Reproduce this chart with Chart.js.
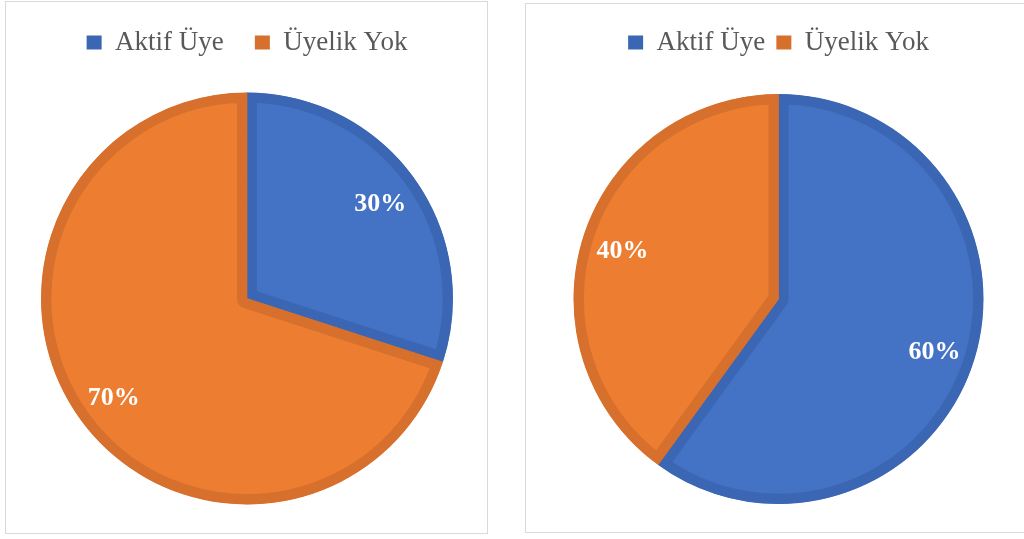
<!DOCTYPE html>
<html>
<head>
<meta charset="utf-8">
<script src="https://cdn.jsdelivr.net/npm/chart.js@4"></script>
<style>
  html, body { margin: 0; padding: 0; background: #fff; overflow: hidden; width: 1024px; height: 539px; }
  .box { position: absolute; box-sizing: border-box; border: 1px solid #d9d9d9; background: #fff; }
  canvas { position: absolute; }
</style>
</head>
<body>
<div class="box" style="left:5px; top:1px; width:483px; height:533px;"></div>
<div class="box" style="left:525px; top:3px; width:510px; height:530px;"></div>
<canvas id="left-pie" width="482" height="533" style="left:6px; top:-2px;"></canvas>
<canvas id="right-pie" width="507" height="532" style="left:525px; top:0px;"></canvas>
<script>
const categories = ['Aktif Üye', 'Üyelik Yok'];
const leftValues = [30, 70];
const rightValues = [60, 40];

const fillColors = ['#4472C4', '#ED7D31'];
const edgeColors = ['#3B66B3', '#D6702C'];

// percentage labels inside the slices
const sliceLabels = {
  id: 'sliceLabels',
  afterDatasetsDraw(chart) {
    const ctx = chart.ctx;
    const meta = chart.getDatasetMeta(0);
    const values = chart.data.datasets[0].data;
    ctx.save();
    ctx.fillStyle = '#ffffff';
    ctx.font = 'bold 26px "Liberation Serif", "Times New Roman", serif';
    ctx.textAlign = 'center';
    ctx.textBaseline = 'middle';
    meta.data.forEach((arc, i) => {
      const p = arc.getProps(['x', 'y', 'startAngle', 'endAngle', 'outerRadius'], true);
      const mid = (p.startAngle + p.endAngle) / 2;
      const r = p.outerRadius * 0.8;
      ctx.fillText(values[i] + '%', p.x + Math.cos(mid) * r, p.y + Math.sin(mid) * r + 3);
    });
    ctx.restore();
  }
};

function makePie(id, values, radius, legendPadding, topPadding) {
  const ctx = document.getElementById(id).getContext('2d');
  return new Chart(ctx, {
    type: 'pie',
    data: {
      labels: categories,
      datasets: [{
        data: values,
        backgroundColor: fillColors,
        borderColor: edgeColors,
        borderWidth: 10,
        borderAlign: 'inner',
        hoverOffset: 0,
        offset: 0
      }]
    },
    options: {
      responsive: false,
      animation: false,
      radius: radius,
      layout: { padding: { top: topPadding, bottom: 0, left: 0, right: 0 } },
      plugins: {
        tooltip: { enabled: false },
        legend: {
          position: 'top',
          labels: {
            font: { family: '"Liberation Serif", "Times New Roman", serif', size: 27 },
            color: '#595959',
            boxWidth: 15,
            boxHeight: 14,
            padding: legendPadding,
            generateLabels: (chart) => chart.data.labels.map((text, i) => ({
              text: text,
              fillStyle: edgeColors[i],
              strokeStyle: edgeColors[i],
              lineWidth: 0,
              fontColor: '#595959',
              hidden: false,
              index: i
            }))
          }
        }
      }
    },
    plugins: [sliceLabels]
  });
}

makePie('left-pie', leftValues, 206, 31, 0);
makePie('right-pie', rightValues, 205, 11, 18);
</script>
</body>
</html>
